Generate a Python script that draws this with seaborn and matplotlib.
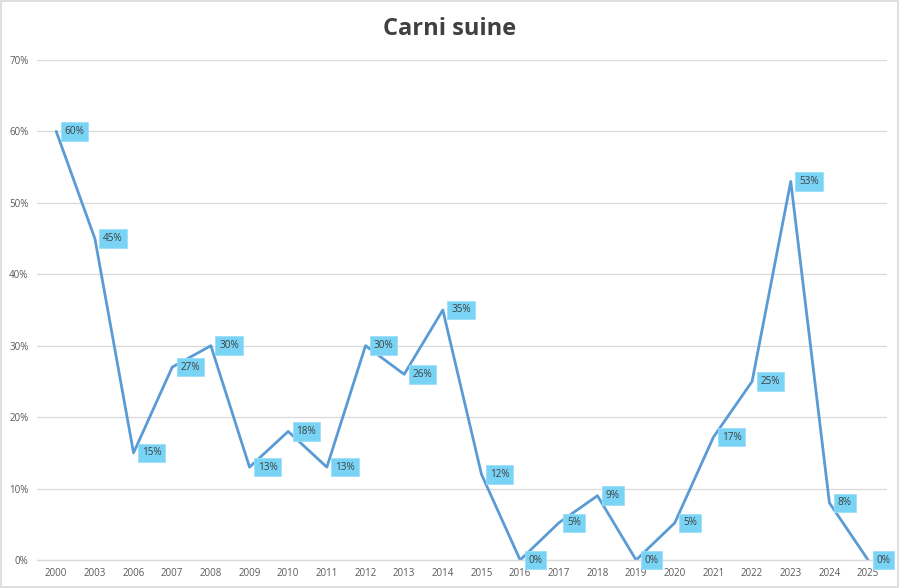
import matplotlib
matplotlib.use("Agg")
import matplotlib.pyplot as plt
import seaborn as sns
import pandas as pd
from matplotlib.patches import Rectangle

years = ["2000", "2003", "2006", "2007", "2008", "2009", "2010", "2011", "2012",
         "2013", "2014", "2015", "2016", "2017", "2018", "2019", "2020", "2021",
         "2022", "2023", "2024", "2025"]
values = [60, 45, 15, 27, 30, 13, 18, 13, 30, 26, 35, 12, 0, 5.2, 9, 0, 5.2, 17.2,
          25, 53, 8, 0]
labels = ["60%", "45%", "15%", "27%", "30%", "13%", "18%", "13%", "30%", "26%", "35%",
          "12%", "0%", "5%", "9%", "0%", "5%", "17%", "25%", "53%", "8%", "0%"]
y_ticks = [0, 10, 20, 30, 40, 50, 60, 70]
y_tick_labels = ["0%", "10%", "20%", "30%", "40%", "50%", "60%", "70%"]
title = "Carni suine"

sns.set_style("white")
plt.rcParams["font.family"] = ["Open Sans", "DejaVu Sans"]

df = pd.DataFrame({"year": years, "value": values, "label": labels})
df["pos"] = range(len(df))

fig = plt.figure(figsize=(9, 5.88), dpi=100)
ax = fig.add_axes([0.041, 0.0476, 0.945, 0.8504])

sns.lineplot(data=df, x="pos", y="value", ax=ax, color="#5B9BD5", linewidth=2.0,
             sort=False)

for _, r in df.iterrows():
    ax.annotate(r["label"], (r["pos"], r["value"]), xytext=(6, 0),
                textcoords="offset points", ha="left", va="center",
                fontsize=7.2, color="#404040",
                bbox=dict(boxstyle="square,pad=0.38", fc="#78D3F5", ec="#9BDFF8", lw=0.6))

ax.set_xlim(-0.5, len(years) - 0.5)
ax.set_ylim(0, 70)
ax.set_xticks(range(len(years)))
ax.set_xticklabels(years)
ax.set_yticks(y_ticks)
ax.set_yticklabels(y_tick_labels)
ax.tick_params(axis="x", length=0, labelsize=7, colors="#595959", pad=6)
ax.tick_params(axis="y", length=0, labelsize=7, colors="#595959", pad=6)
ax.set_xticks([i + 0.5 for i in range(-1, len(years))], minor=True)
ax.tick_params(axis="x", which="minor", length=4, color="#D9D9D9", width=1)
ax.grid(axis="y", color="#D9D9D9", linewidth=0.9)
ax.set_axisbelow(True)
for s in ["top", "right", "left"]:
    ax.spines[s].set_visible(False)
ax.spines["bottom"].set_color("#D9D9D9")
ax.spines["bottom"].set_linewidth(1)
ax.set_xlabel("")
ax.set_ylabel("")

fig.text(0.5, 0.95, title, ha="center", va="center", fontsize=17,
         fontweight="bold", color="#404040")

fig.patches.append(Rectangle((0.001, 0.001), 0.997, 0.997, transform=fig.transFigure,
                             fill=False, ec="#D9D9D9", lw=1.2))

fig.savefig("out.png", dpi=100)
